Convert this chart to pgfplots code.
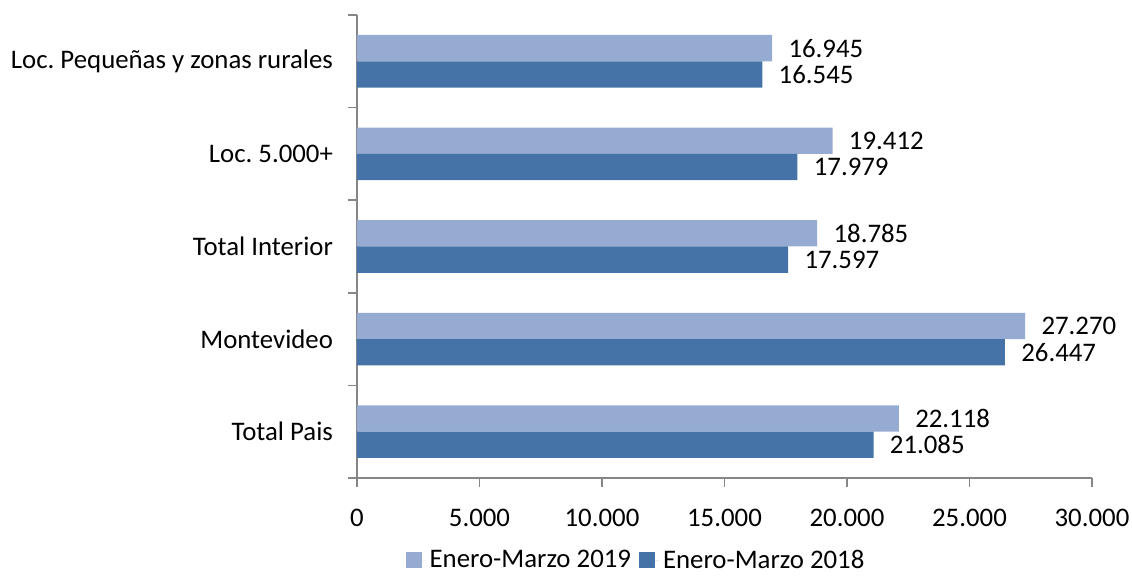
\documentclass[border=0pt]{standalone}
\usepackage{pgfplots}
\pgfplotsset{compat=1.18}
\usepackage{fontspec}
\setmainfont{Carlito}
\frenchspacing
\definecolor{lightbar}{RGB}{149,171,210}
\definecolor{darkbar}{RGB}{69,115,167}
\definecolor{axisgray}{RGB}{134,134,134}
\begin{document}
\begin{tikzpicture}
\useasboundingbox (-178.5pt,-49pt) rectangle (387.5pt,239pt);
\begin{axis}[
  at={(0pt,0pt)}, anchor=south west,
  scale only axis,
  width=367.5pt, height=231.5pt,
  xmin=0, xmax=30000,
  ymin=-0.5, ymax=4.5,
  axis x line*=bottom, axis y line*=left,
  axis line style={-, draw=axisgray, line width=0.75pt},
  tick style={draw=axisgray, line width=0.75pt},
  tick align=outside,
  major tick length=4.5pt,
  xtick={0,5000,...,30000},
  scaled x ticks=false,
  xticklabel style={/pgf/number format/1000 sep={.}, /pgf/number format/assume math mode=true, yshift=-7.5pt},
  ytick={-0.5,0.5,1.5,2.5,3.5,4.5},
  yticklabels={},
  extra y ticks={0,1,2,3,4},
  extra y tick labels={Total Pais,Montevideo,Total Interior,Loc. 5.000+,Loc. Pequeñas y zonas rurales},
  extra y tick style={major tick length=0pt, yticklabel style={xshift=-8.5pt}},
  font=\fontsize{13.4}{16}\selectfont,
  ticklabel style={font=\fontsize{13.4}{16}\selectfont},
  xbar, bar width=13.15pt,
  nodes near coords,
  nodes near coords style={font=\fontsize{13.4}{16}\selectfont, anchor=west, inner sep=0pt, xshift=8pt,
     /pgf/number format/fixed, /pgf/number format/1000 sep={.}, /pgf/number format/assume math mode=true},
  legend style={at={(0.381,-0.178)}, anchor=center, draw=none, legend columns=2,
     font=\fontsize{13.4}{16}\selectfont,
     /tikz/every even column/.append style={column sep=2pt}},
  legend image code/.code={\fill[#1] (0pt,-4pt) rectangle (8pt,4pt); \path (0pt,0pt) -- (10pt,0pt);},
]
\addplot[fill=lightbar, draw=none, bar shift=6.575pt] coordinates {
  (22118,0) (27270,1) (18785,2) (19412,3) (16945,4)};
\addlegendentry{Enero-Marzo 2019}
\addplot[fill=darkbar, draw=none, bar shift=-6.575pt] coordinates {
  (21085,0) (26447,1) (17597,2) (17979,3) (16545,4)};
\addlegendentry{Enero-Marzo 2018}
\end{axis}
\end{tikzpicture}
\end{document}
